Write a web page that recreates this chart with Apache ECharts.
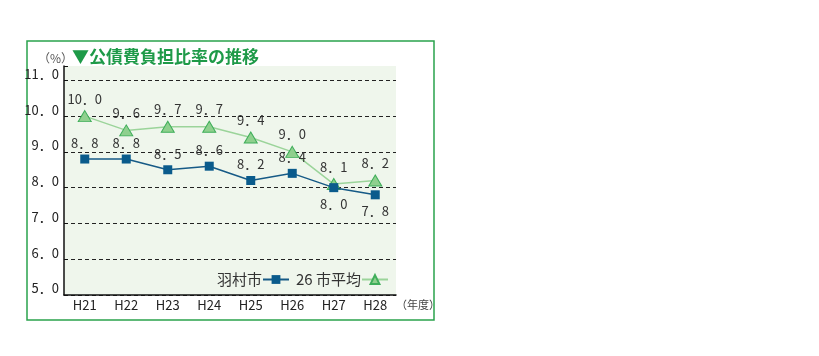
<!DOCTYPE html>
<html><head><meta charset="utf-8">
<script src="https://cdn.jsdelivr.net/npm/echarts@6/dist/echarts.min.js"></script>
<style>html,body{margin:0;padding:0;background:#fff}#c{width:819px;height:356px}</style>
</head><body><div id="c"></div>
<script>
const categories = ['H21','H22','H23','H24','H25','H26','H27','H28'];
const hamuraValues = [8.8, 8.8, 8.5, 8.6, 8.2, 8.4, 8.0, 7.8];
const avgValues = [10.0, 9.6, 9.7, 9.7, 9.4, 9.0, 8.1, 8.2];
const seriesNames = ['羽村市', '26 市平均'];
const yTicks = [5, 6, 7, 8, 9, 10, 11];
const belowLabelIdx = [6, 7];

const fmt = v => Number(v).toFixed(1).replace('.', '．');
const lblFont = "'Noto Sans CJK JP', sans-serif";

const chart = echarts.init(document.getElementById('c'), null, {renderer: 'canvas'});
chart.setOption({
  animation: false,
  backgroundColor: '#fff',
  title: [
    {text: '▼公債費負担比率の推移', left: 67, top: 43,
     textStyle: {color: '#1e9a48', fontSize: 17, fontWeight: 'bold', fontFamily: lblFont}},
    {text: '（%）', left: 33, top: 47,
     textStyle: {color: '#555', fontSize: 12, fontWeight: 'normal', fontFamily: lblFont}},
    {text: '（年度）', left: 391, top: 294,
     textStyle: {color: '#444', fontSize: 11, fontWeight: 'normal', fontFamily: lblFont}}
  ],
  graphic: [
    {type: 'rect', z: -10, silent: true,
     shape: {x: 27, y: 41, width: 407, height: 279},
     style: {fill: 'none', stroke: '#2aa24c', lineWidth: 1.5}}
  ],
  grid: {left: 64, right: 423, top: 66, bottom: 61, show: true,
         backgroundColor: '#eff6ec', borderWidth: 0},
  legend: {
    data: seriesNames, right: 425, top: 267, align: 'right',
    itemWidth: 26, itemHeight: 11, itemGap: 6,
    textStyle: {color: '#333', fontSize: 15, fontFamily: lblFont, padding: [0, -4, 0, 0]}
  },
  xAxis: {
    type: 'category', data: categories, boundaryGap: true,
    axisLine: {lineStyle: {color: '#111', width: 1.5}},
    axisTick: {inside: true, length: 6, lineStyle: {color: '#111'}},
    axisLabel: {color: '#222', fontSize: 13, margin: 4, fontFamily: lblFont}
  },
  yAxis: {
    type: 'value', min: 5, max: 11.4, interval: 1,
    axisLine: {show: true, lineStyle: {color: '#111', width: 1.5}},
    axisTick: {show: true, inside: true, length: 4, lineStyle: {color: '#111'}},
    axisLabel: {color: '#222', fontSize: 13, margin: 5, verticalAlign: 'bottom', fontFamily: lblFont,
      formatter: v => yTicks.includes(v) ? fmt(v) : ''},
    splitLine: {show: true, lineStyle: {type: [4, 3],
      color: ['#222','#222','#222','#222','#222','#222','#222','rgba(0,0,0,0)']}}
  },
  series: [
    {name: seriesNames[0], type: 'line', z: 3,
     data: hamuraValues.map((v, i) => belowLabelIdx.includes(i) ? {value: v, label: {position: 'bottom'}} : v),
     symbol: 'rect', symbolSize: 9,
     lineStyle: {color: '#165a86', width: 1.5},
     itemStyle: {color: '#0a5b8c'},
     label: {show: true, position: 'top', distance: 5, color: '#333', fontSize: 13, fontFamily: lblFont,
       formatter: p => fmt(p.value)}},
    {name: seriesNames[1], type: 'line', z: 2,
     data: avgValues,
     symbol: 'triangle', symbolSize: [13, 11],
     lineStyle: {color: '#9bd49a', width: 1.5},
     itemStyle: {color: '#8fd08e', borderColor: '#3fae5a', borderWidth: 1},
     label: {show: true, position: 'top', distance: 5, color: '#333', fontSize: 13, fontFamily: lblFont,
       formatter: p => fmt(p.value)}}
  ]
});
</script></body></html>
